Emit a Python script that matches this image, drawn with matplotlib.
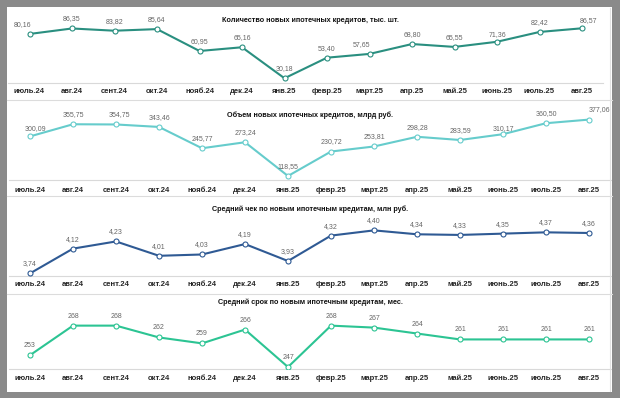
import matplotlib.pyplot as plt
from matplotlib.patches import Rectangle
from matplotlib.lines import Line2D

plt.rcParams['font.family'] = ['Liberation Sans', 'DejaVu Sans']

months = ['июль.24', 'авг.24', 'сент.24', 'окт.24', 'нояб.24', 'дек.24', 'янв.25',
          'февр.25', 'март.25', 'апр.25', 'май.25', 'июнь.25', 'июль.25', 'авг.25']

count = [80.16, 86.35, 83.82, 85.64, 60.95, 65.16, 30.18,
         53.40, 57.65, 68.80, 65.55, 71.36, 82.42, 86.57]
volume = [300.09, 355.75, 354.75, 343.46, 245.77, 273.24, 118.55,
          230.72, 253.81, 298.28, 283.59, 310.17, 360.50, 377.06]
avg_check = [3.74, 4.12, 4.23, 4.01, 4.03, 4.19, 3.93,
             4.32, 4.40, 4.34, 4.33, 4.35, 4.37, 4.36]
avg_term = [253, 268, 268, 262, 259, 266, 247,
            268, 267, 264, 261, 261, 261, 261]

titles = ['Количество новых ипотечных кредитов, тыс. шт.',
          'Объем новых ипотечных кредитов, млрд руб.',
          'Средний чек по новым ипотечным кредитам, млн руб.',
          'Средний срок по новым ипотечным кредитам, мес.']

W, H = 620, 398
fig = plt.figure(figsize=(W / 100, H / 100), dpi=100)
fig.patch.set_facecolor('#8a8a8a')

# белый лист внутри серой рамки
fig.add_artist(Rectangle((7 / W, 1 - 392 / H), 605 / W, 385 / H,
                         transform=fig.transFigure, facecolor='white',
                         edgecolor='none', zorder=0))
for yy in [100, 196, 294]:
    fig.add_artist(Line2D([7 / W, 612 / W], [1 - yy / H] * 2, color='#dcdcdc',
                          lw=0.8, transform=fig.transFigure))
fig.add_artist(Line2D([610 / W] * 2, [1 - 8 / H, 1 - 391 / H], color='#e2e2e2',
                      lw=0.8, transform=fig.transFigure))

# (values, color, fmt, x_left, x_right, baseline_px, top_px, ymin, ymax, title_y, tick_y)
panels = [
    (count, '#2a8f80', '{:.2f}', 8.25, 603.25, 83.3, 10, 24.5, 107.2, 20, 92),
    (volume, '#66cccc', '{:.2f}', 8.5, 610.5, 180.3, 105, 98.8, 444, 115, 190),
    (avg_check, '#2f5a94', '{:.2f}', 8.5, 610.5, 276, 200, 3.70, 4.866, 209, 285),
    (avg_term, '#2cc493', '{:.0f}', 8.5, 610.5, 369, 300, 246, 281, 302, 379),
]

# сдвиги отдельных подписей (панель, точка) -> пиксели
nudge = {(0, 0): (-7, 9), (0, 13): (6, 8), (0, 8): (-8, 9), (0, 11): (0, 7),
         (1, 0): (5, 8), (1, 2): (3, 10), (1, 13): (10, 10), (1, 11): (0, 6)}

for p, ((vals, color, fmt, xl, xr, base, top, ymin, ymax, ty, tky), title) in enumerate(zip(panels, titles)):
    ax = fig.add_axes([xl / W, 1 - base / H, (xr - xl) / W, (base - top) / H])
    ax.set_facecolor('none')
    x = list(range(len(vals)))
    ax.plot(x, vals, color=color, lw=1.5, marker='o', ms=3.6,
            mfc='white', mec=color, mew=0.8, zorder=3)
    ax.set_xlim(-0.5, len(vals) - 0.5)
    ax.set_ylim(ymin, ymax)
    for xi, v in zip(x, vals):
        off = nudge.get((p, xi), (0, 9.5))
        ax.annotate(fmt.format(v).replace('.', ','), (xi, v), xytext=off,
                    textcoords='offset pixels', ha='center', va='center',
                    fontsize=5, color='#666666')
    for s in ['top', 'right', 'left']:
        ax.spines[s].set_visible(False)
    ax.spines['bottom'].set_color('#d9d9d9')
    ax.spines['bottom'].set_linewidth(0.8)
    ax.set_yticks([])
    ax.set_xticks(x)
    ax.set_xticklabels([])
    ax.tick_params(axis='x', length=0)
    for xi, m in zip(x, months):
        ax.annotate(m, (xi, 0), xycoords=('data', 'axes fraction'),
                    xytext=(0, -(tky - base)), textcoords='offset pixels',
                    ha='center', va='center', fontsize=5.5, fontweight='bold',
                    color='#262626')
    fig.text(0.5, 1 - ty / H, title, ha='center', va='center', fontsize=5.2,
             fontweight='bold', color='#111111')

fig.savefig('out.png', dpi=100, facecolor=fig.get_facecolor())
